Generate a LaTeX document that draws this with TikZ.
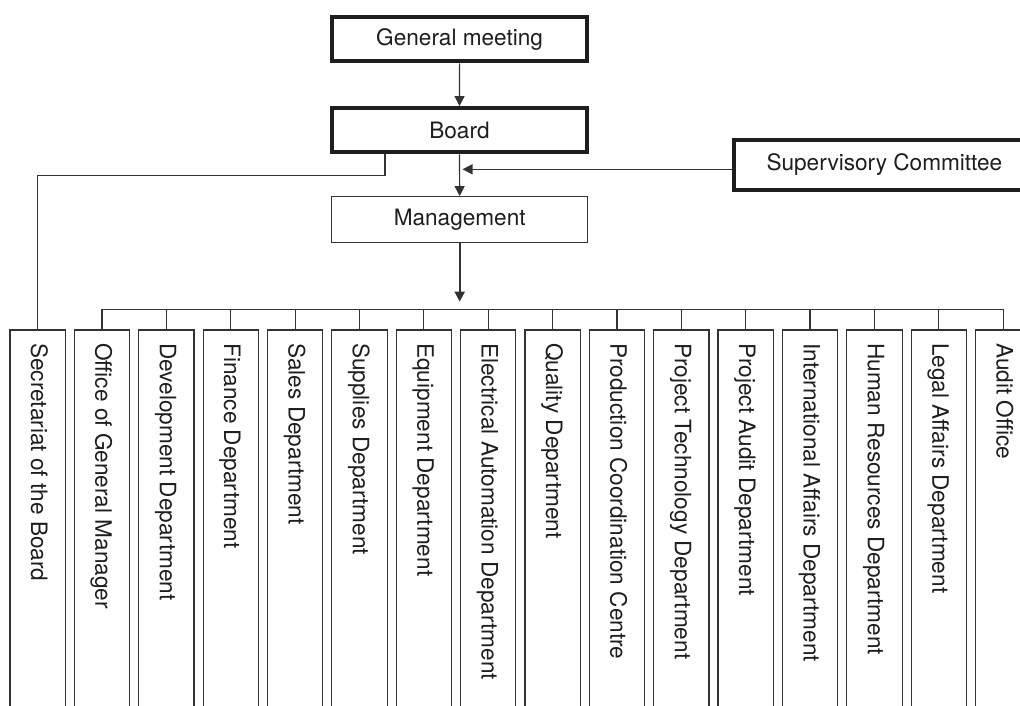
\documentclass[tikz,border=0pt]{standalone}
\usepackage{fontspec}
\setmainfont{TeX Gyre Heros}
\usetikzlibrary{arrows.meta,calc}
\definecolor{ln}{HTML}{333333}
\definecolor{tk}{HTML}{1E1E1E}
\begin{document}
\begin{tikzpicture}[x=1pt,y=-1pt,
  every node/.style={font=\fontsize{22.6}{27}\selectfont, text=tk, inner sep=0pt},
  thickbox/.style={draw=tk, line width=4pt, minimum width=255pt, minimum height=44.3pt},
  thinbox/.style={draw=ln, line width=1.2pt, minimum width=256pt, minimum height=45.6pt},
  conn/.style={draw=ln, line width=1.2pt},
  arr/.style={conn, -{Triangle[length=10pt,width=10pt]}},
  dept/.style={draw=ln, line width=1.2pt, minimum width=55.3pt, minimum height=392pt, anchor=north},
  dtext/.style={rotate=-90, anchor=base west}
]
\useasboundingbox (0,0) rectangle (1020,706);
\clip (0,0) rectangle (1020,706);

\node[thickbox] (gm) at (459.6,39.2) {General meeting};
\node[thickbox] (board) at (459.5,130.2) {Board};
\node[thinbox] (mgmt) at (459.7,219.5) {Management};
\node[thickbox, minimum width=301.3pt, minimum height=49.4pt] (sup) at (884.4,165) {Supervisory Committee};

\foreach \t [count=\i from 0] in {Secretariat of the Board, Office of General Manager, Development Department, Finance Department, Sales Department, Supplies Department, Equipment Department, Electrical Automation Department, Quality Department, Production Coordination Centre, Project Technology Department, Project Audit Department, International Affairs Department, Human Resources Department, Legal Affairs Department, Audit Office}{
  \pgfmathsetmacro\xx{10+64.37*\i+27.65}
  \node[dept] (d\i) at (\xx,329.3) {};
  \node[dtext] (t\i) at ($(d\i.north west)+(21.7,13.7)$) {\t};
}

\coordinate (bus) at (0,309.3);
\draw[conn] (d1.north |- bus) -- (d15.north |- bus);
\foreach \i in {1,...,15} \draw[conn] (d\i.north) -- (d\i.north |- bus);

\draw[arr] (gm.south) -- (board.north);
\draw[arr] (board.south) -- (mgmt.north);
\coordinate (sa) at ([yshift=-4.3pt]sup.west);
\draw[arr, shorten >=3pt] (sa) -- (sa -| board.south);
\coordinate (sb) at ($(board.south)+(-74.5,0)$);
\draw[conn] (sb) -- ++(0,21) -| (d0.north);
\coordinate (mt) at (0,301.7);
\draw[arr, line width=2pt] (mgmt.south) -- (mgmt.south |- mt);
\end{tikzpicture}
\end{document}
